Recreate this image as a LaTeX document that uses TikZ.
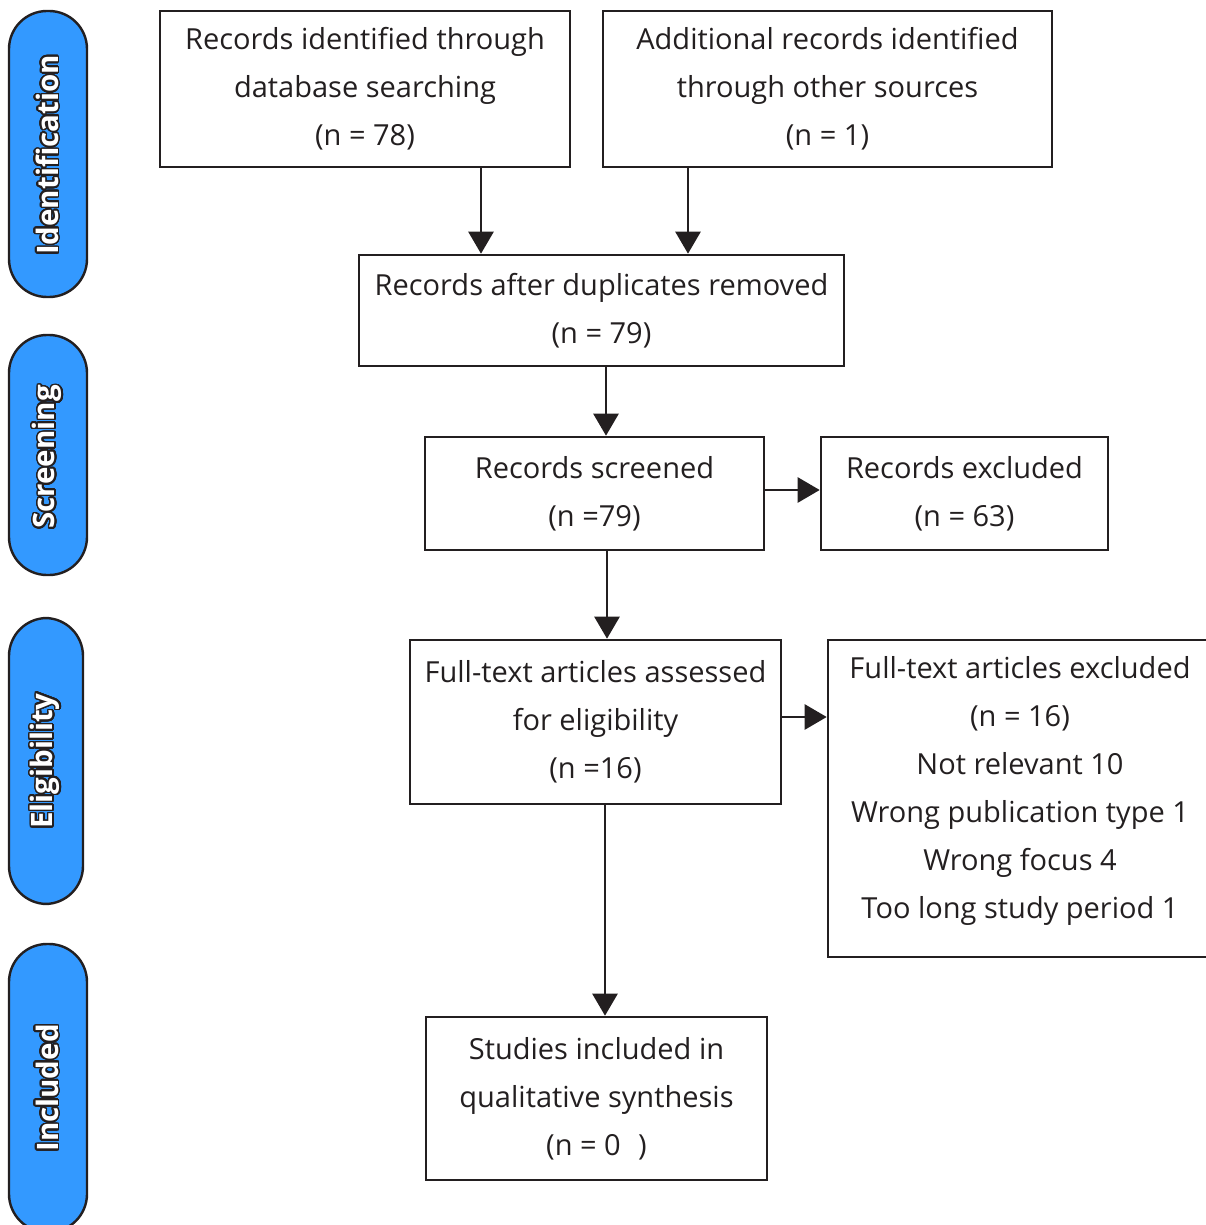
\documentclass[tikz,border=0pt]{standalone}
\usepackage{fontspec}
\setmainfont{Open Sans}
\usepackage{contour}
\usetikzlibrary{arrows.meta,calc}
\definecolor{ink}{HTML}{231F20}
\definecolor{pillblue}{HTML}{3399FF}
\contourlength{1.6pt}
\contournumber{32}
\begin{document}
\begin{tikzpicture}[x=1pt,y=-1pt,
  box/.style={draw=ink,line width=2.6pt,rectangle,inner sep=0pt,align=center,
    text=ink,font=\fontsize{29}{48}\selectfont},
  txt/.style={inner sep=0pt,align=center,text=ink,font=\fontsize{29}{48}\selectfont},
  pill/.style={draw=ink,line width=2.4pt,fill=pillblue,rounded corners=38pt},
  tag/.style={rotate=90,font=\fontsize{29.5}{34}\selectfont\bfseries},
  arr/.style={draw=ink,line width=2.6pt,-{Triangle[length=22pt,width=25pt]}}]
\useasboundingbox (0,0) rectangle (1206,1225);

% stage labels on the left
\draw[pill] (9,11) rectangle (87,297);
\draw[pill] (9,335) rectangle (87,575);
\draw[pill] (9,618) rectangle (83,904);
\draw[pill] (9,944) rectangle (87,1232);
\node[tag] (tagid) at (48,155) {\contour{ink}{\textcolor{white}{Identification}}};
\node[tag] (tagsc) at (48,457) {\contour{ink}{\textcolor{white}{Screening}}};
\node[tag] (tagel) at (46,761) {\contour{ink}{\textcolor{white}{Eligibility}}};
\node[tag] (tagin) at (48,1088) {\contour{ink}{\textcolor{white}{Included}}};

% flow boxes
\node[box,minimum width=410pt,minimum height=156pt] (db) at (365,89)
  {Records identified through\\database searching\\(n = 78)};
\node[box,minimum width=449pt,minimum height=156pt] (other) at (827.5,89)
  {Additional records identified\\through other sources\\(n = 1)};
\node[box,minimum width=485pt,minimum height=111pt] (dup) at (601.5,310.5)
  {Records after duplicates removed\\(n = 79)};
\node[box,minimum width=339pt,minimum height=113pt] (scr) at (594.5,493.5)
  {Records screened\\(n =79)};
\node[box,minimum width=287pt,minimum height=113pt] (exc) at (964.5,493.5)
  {Records excluded\\(n = 63)};
\node[box,minimum width=371pt,minimum height=164pt] (full) at (595.5,722)
  {Full-text articles assessed\\for eligibility\\(n =16)};
\node[box,minimum width=384pt,minimum height=317pt] (fexc) at (1020,798.5) {};
\node[txt] (fexctext) at (1020,791)
  {Full-text articles excluded\\(n = 16)\\Not relevant 10\\Wrong publication type 1\\Wrong focus 4\\Too long study period 1};
\node[box,minimum width=341pt,minimum height=163pt] (incl) at (596.5,1098.5)
  {Studies included in\\qualitative synthesis\\(n = 0\hspace{0.6em})};

% connector columns
\coordinate (xa) at (481,0);
\coordinate (xb) at (688,0);
\coordinate (xc) at (606,0);
\coordinate (xd) at (607,0);
\coordinate (xe) at (605,0);
\coordinate (ya) at (0,490);
\coordinate (yb) at (0,717);

\draw[arr] (db.south -| xa) -- (dup.north -| xa);
\draw[arr] (other.south -| xb) -- (dup.north -| xb);
\draw[arr] (dup.south -| xc) -- (scr.north -| xc);
\draw[arr] (scr.south -| xd) -- (full.north -| xd);
\draw[arr] (full.south -| xe) -- (incl.north -| xe);
\draw[arr] (scr.east |- ya) -- (exc.west |- ya);
\draw[arr] (full.east |- yb) -- (fexc.west |- yb);
\end{tikzpicture}
\end{document}
